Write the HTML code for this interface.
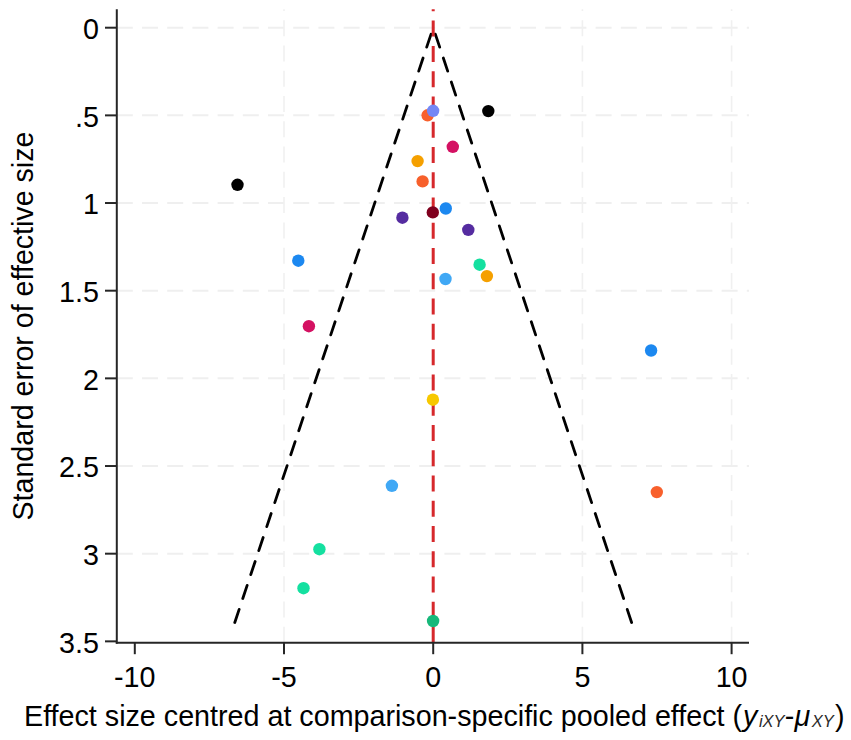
<!DOCTYPE html><html><head><meta charset="utf-8"><style>html,body{margin:0;padding:0;background:#fff;}svg{display:block;}</style></head><body>
<svg width="851" height="740" viewBox="0 0 851 740">
<rect width="851" height="740" fill="#fff"/>
<line x1="116.8" y1="115.37" x2="749" y2="115.37" stroke="#efefef" stroke-width="2" stroke-dasharray="16 9.2"/>
<line x1="116.8" y1="203.03" x2="749" y2="203.03" stroke="#efefef" stroke-width="2" stroke-dasharray="16 9.2"/>
<line x1="116.8" y1="290.69" x2="749" y2="290.69" stroke="#efefef" stroke-width="2" stroke-dasharray="16 9.2"/>
<line x1="116.8" y1="378.36" x2="749" y2="378.36" stroke="#efefef" stroke-width="2" stroke-dasharray="16 9.2"/>
<line x1="116.8" y1="466.03" x2="749" y2="466.03" stroke="#efefef" stroke-width="2" stroke-dasharray="16 9.2"/>
<line x1="116.8" y1="553.69" x2="749" y2="553.69" stroke="#efefef" stroke-width="2" stroke-dasharray="16 9.2"/>
<line x1="116.8" y1="27.70" x2="749" y2="27.70" stroke="#efefef" stroke-width="2" stroke-dasharray="16 9.2"/>
<line x1="284.00" y1="642.7" x2="284.00" y2="9.2" stroke="#f0f0f0" stroke-width="1.6" stroke-dasharray="16 9.27"/>
<line x1="582.40" y1="642.7" x2="582.40" y2="9.2" stroke="#f0f0f0" stroke-width="1.6" stroke-dasharray="16 9.27"/>
<line x1="731.60" y1="642.7" x2="731.60" y2="9.2" stroke="#f0f0f0" stroke-width="1.6" stroke-dasharray="16 9.27"/>
<line x1="234.35" y1="623.82" x2="433.2" y2="27.7" stroke="#000" stroke-width="2.8" stroke-linecap="round" stroke-dasharray="13.8 11.47" stroke-dashoffset="-1.4"/>
<line x1="632.05" y1="623.82" x2="433.2" y2="27.7" stroke="#000" stroke-width="2.8" stroke-linecap="round" stroke-dasharray="13.8 11.47" stroke-dashoffset="-1.4"/>
<line x1="433.2" y1="643.1" x2="433.2" y2="9.2" stroke="#d6282c" stroke-width="3" stroke-dasharray="16 9.27"/>
<circle cx="427.6" cy="115.3" r="6.2" fill="#f8602c"/>
<circle cx="433.1" cy="110.8" r="6.2" fill="#7487f5"/>
<circle cx="488.3" cy="111.1" r="6.2" fill="#000000"/>
<circle cx="452.8" cy="146.8" r="6.2" fill="#d41162"/>
<circle cx="417.6" cy="161.1" r="6.2" fill="#f5a000"/>
<circle cx="422.6" cy="181.4" r="6.2" fill="#f7602b"/>
<circle cx="237.5" cy="184.8" r="6.2" fill="#000000"/>
<circle cx="432.8" cy="212.4" r="6.2" fill="#80001e"/>
<circle cx="445.8" cy="208.5" r="6.2" fill="#1c88f0"/>
<circle cx="402.4" cy="217.7" r="6.2" fill="#552ca0"/>
<circle cx="468.3" cy="229.9" r="6.2" fill="#552ca0"/>
<circle cx="298.3" cy="260.7" r="6.2" fill="#1c88f0"/>
<circle cx="479.6" cy="264.7" r="6.2" fill="#14e0a0"/>
<circle cx="486.9" cy="276.1" r="6.2" fill="#f5a000"/>
<circle cx="445.5" cy="279.0" r="6.2" fill="#40a8f5"/>
<circle cx="308.9" cy="326.2" r="6.2" fill="#d41162"/>
<circle cx="651.1" cy="350.5" r="6.2" fill="#1c88f0"/>
<circle cx="432.9" cy="399.7" r="6.2" fill="#f7c800"/>
<circle cx="391.9" cy="485.8" r="6.2" fill="#40a8f5"/>
<circle cx="656.8" cy="492.1" r="6.2" fill="#f8602c"/>
<circle cx="319.4" cy="549.2" r="6.2" fill="#14e0a0"/>
<circle cx="303.5" cy="588.2" r="6.2" fill="#14e0a0"/>
<circle cx="433.1" cy="621.0" r="6.2" fill="#17b87a"/>
<line x1="116.8" y1="9.2" x2="116.8" y2="643.7" stroke="#262626" stroke-width="2"/>
<line x1="115.8" y1="642.7" x2="749" y2="642.7" stroke="#262626" stroke-width="2"/>
<line x1="105" y1="27.70" x2="116.8" y2="27.70" stroke="#262626" stroke-width="2"/>
<text x="99" y="39.00" font-family="Liberation Sans, sans-serif" font-size="28.7" text-anchor="end" fill="#000">0</text>
<line x1="105" y1="115.37" x2="116.8" y2="115.37" stroke="#262626" stroke-width="2"/>
<text x="99" y="126.67" font-family="Liberation Sans, sans-serif" font-size="28.7" text-anchor="end" fill="#000">.5</text>
<line x1="105" y1="203.03" x2="116.8" y2="203.03" stroke="#262626" stroke-width="2"/>
<text x="99" y="214.33" font-family="Liberation Sans, sans-serif" font-size="28.7" text-anchor="end" fill="#000">1</text>
<line x1="105" y1="290.69" x2="116.8" y2="290.69" stroke="#262626" stroke-width="2"/>
<text x="99" y="302.00" font-family="Liberation Sans, sans-serif" font-size="28.7" text-anchor="end" fill="#000">1.5</text>
<line x1="105" y1="378.36" x2="116.8" y2="378.36" stroke="#262626" stroke-width="2"/>
<text x="99" y="389.66" font-family="Liberation Sans, sans-serif" font-size="28.7" text-anchor="end" fill="#000">2</text>
<line x1="105" y1="466.03" x2="116.8" y2="466.03" stroke="#262626" stroke-width="2"/>
<text x="99" y="477.33" font-family="Liberation Sans, sans-serif" font-size="28.7" text-anchor="end" fill="#000">2.5</text>
<line x1="105" y1="553.69" x2="116.8" y2="553.69" stroke="#262626" stroke-width="2"/>
<text x="99" y="564.99" font-family="Liberation Sans, sans-serif" font-size="28.7" text-anchor="end" fill="#000">3</text>
<line x1="105" y1="641.36" x2="116.8" y2="641.36" stroke="#262626" stroke-width="2"/>
<text x="99" y="652.66" font-family="Liberation Sans, sans-serif" font-size="28.7" text-anchor="end" fill="#000">3.5</text>
<line x1="134.80" y1="642.7" x2="134.80" y2="654.2" stroke="#262626" stroke-width="2"/>
<text x="134.80" y="686.8" font-family="Liberation Sans, sans-serif" font-size="28.7" text-anchor="middle" fill="#000">-10</text>
<line x1="284.00" y1="642.7" x2="284.00" y2="654.2" stroke="#262626" stroke-width="2"/>
<text x="284.00" y="686.8" font-family="Liberation Sans, sans-serif" font-size="28.7" text-anchor="middle" fill="#000">-5</text>
<line x1="433.20" y1="642.7" x2="433.20" y2="654.2" stroke="#262626" stroke-width="2"/>
<text x="433.20" y="686.8" font-family="Liberation Sans, sans-serif" font-size="28.7" text-anchor="middle" fill="#000">0</text>
<line x1="582.40" y1="642.7" x2="582.40" y2="654.2" stroke="#262626" stroke-width="2"/>
<text x="582.40" y="686.8" font-family="Liberation Sans, sans-serif" font-size="28.7" text-anchor="middle" fill="#000">5</text>
<line x1="731.60" y1="642.7" x2="731.60" y2="654.2" stroke="#262626" stroke-width="2"/>
<text x="731.60" y="686.8" font-family="Liberation Sans, sans-serif" font-size="28.7" text-anchor="middle" fill="#000">10</text>
<text x="24" y="725.5" font-family="Liberation Sans, sans-serif" font-size="28.7" fill="#000">Effect size centred at comparison-specific pooled effect (<tspan font-style="italic" dx="0.8">y</tspan><tspan font-style="italic" font-size="16.5" fill="#2a2a2a" dy="1" dx="1.7">iXY</tspan><tspan dy="-1" dx="0">-</tspan><tspan font-style="italic" dx="0.3">μ</tspan><tspan font-style="italic" font-size="16.5" fill="#2a2a2a" dy="1" dx="1.6">XY</tspan><tspan dy="-1" dx="1.2">)</tspan></text>
<text transform="translate(33,520.5) rotate(-90)" font-family="Liberation Sans, sans-serif" font-size="28.6" fill="#000">Standard error of effective size</text>
</svg></body></html>
